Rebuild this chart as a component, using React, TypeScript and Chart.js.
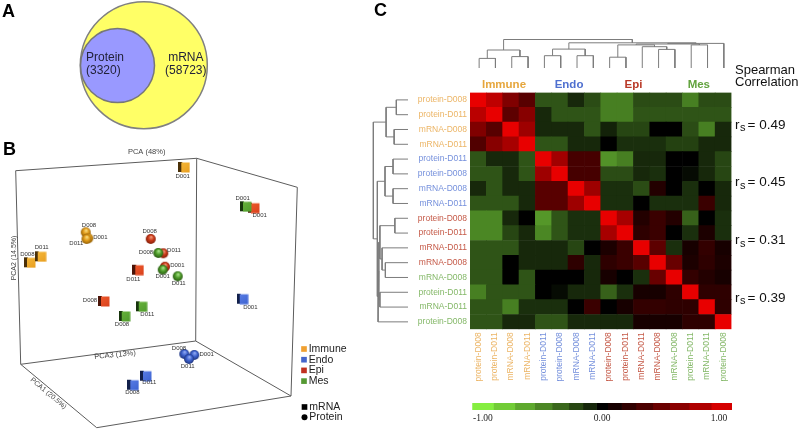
import React, { useEffect, useRef } from "react";
import { Chart, registerables } from "chart.js";

Chart.register(...registerables);

const SANS = "'Liberation Sans', Arial, sans-serif";
const SERIF = "'Liberation Serif', 'Times New Roman', serif";

// ---------- Panel A data
const vennNames = ["mRNA", "Protein"];
const vennCounts = [58723, 3320];
const vennCentres = [[143.8, 65.2], [117.5, 65.5]];

// ---------- Panel B data: [label, projected x, projected y, label x, label y]
const immuneMrna = [["D001", 184.3, 167, 182.7, 176.3], ["D008", 30, 262.3, 27.3, 254.3], ["D011", 40.7, 256.3, 41.7, 247.7]];
const immuneProtein = [["D008", 85.7, 232.3, 89, 225], ["D001", 88.3, 238.3, 100.3, 237], ["D011", 86.5, 239, 76.3, 243]];
const endoMrna = [["D001", 242.7, 298.7, 250.3, 307.3], ["D008", 133.3, 384.7, 132.3, 392.3], ["D011", 146, 375.7, 149.3, 382.7]];
const endoProtein = [["D008", 184.3, 354, 179, 348], ["D001", 194.3, 355, 206.7, 354.7], ["D011", 189, 359, 187.7, 366.7]];
const epiMrna = [["D001", 254, 207.7, 259.7, 215.3], ["D008", 104, 301, 90, 300.7], ["D011", 138.3, 269.7, 133.3, 279]];
const epiProtein = [["D008", 150.7, 239, 149.7, 231], ["D011", 163.3, 253.3, 174, 250], ["D001", 165, 266.7, 177.3, 265]];
const mesMrna = [["D001", 246, 206.3, 242.7, 198], ["D008", 124.7, 316, 122, 324.3], ["D011", 141.7, 306.3, 147.3, 314.3]];
const mesProtein = [["D008", 158.3, 253, 146, 252.3], ["D001", 162.7, 269.7, 162.7, 276.7], ["D011", 177.7, 276.3, 178.7, 283.3]];
const boxCorners: Record<string, number[]> = {
  a: [15.7, 170.7], b: [196.7, 158.3], c: [297.3, 187.3], d: [20.7, 364.3],
  e: [195.7, 341], f: [291, 396], g: [96.7, 427.7],
};
const boxEdges = ["ab", "bc", "ad", "be", "cf", "de", "ef", "dg", "gf"];

// ---------- Panel C data
const groups = ["Immune", "Endo", "Epi", "Mes"];
const groupColours = ["#e6a63c", "#4f70d0", "#b93a28", "#62a33e"];
const sampleColours = ["#ecb566", "#7590dc", "#c55a48", "#84b868"];
const sampleNames = [
  "protein-D008", "protein-D011", "mRNA-D008", "mRNA-D011",
  "protein-D011", "protein-D008", "mRNA-D008", "mRNA-D011",
  "protein-D008", "protein-D011", "mRNA-D011", "mRNA-D008",
  "mRNA-D008", "protein-D011", "mRNA-D011", "protein-D008",
];
const sampleGroups = [0, 0, 0, 0, 1, 1, 1, 1, 2, 2, 2, 2, 3, 3, 3, 3];
const groupSpearman = [0.49, 0.45, 0.31, 0.39];
const corr = [
  [1, .82, .55, .38, -.25, -.25, -.1, -.22, -.42, -.42, -.22, -.22, -.22, -.42, -.22, -.22],
  [.8, 1, .4, .58, -.1, -.25, -.25, -.25, -.42, -.42, -.25, -.25, -.25, -.25, -.25, -.25],
  [.55, .38, 1, .68, -.1, -.1, -.1, -.25, -.08, -.2, -.2, 0, 0, -.22, -.42, -.1],
  [.35, .58, .72, 1, -.25, -.25, -.1, -.1, 0, -.12, -.12, -.12, -.18, -.18, -.1, -.1],
  [-.25, -.1, -.1, -.25, 1, .7, .3, .3, -.5, -.42, -.1, -.1, 0, 0, -.1, -.2],
  [-.25, -.25, -.1, -.25, .68, 1, .3, .3, -.22, -.22, -.1, -.12, 0, -.02, -.1, -.2],
  [-.1, -.25, -.1, -.1, .38, .38, 1, .68, -.12, -.12, -.22, .15, 0, -.12, 0, -.1],
  [-.25, -.25, -.25, -.1, .38, .38, .68, 1, -.12, -.12, 0, -.12, -.12, -.12, .25, -.1],
  [-.45, -.45, -.1, 0, -.52, -.25, -.12, -.12, 1, .72, .15, .25, .15, -.3, 0, -.12],
  [-.45, -.45, -.2, -.1, -.45, -.25, -.12, -.12, .72, 1, .2, .25, 0, -.12, .12, -.12],
  [-.25, -.25, -.25, -.1, -.1, -.1, -.2, 0, .12, .25, 1, .4, -.12, .1, .22, .1],
  [-.25, -.25, 0, -.1, -.1, -.1, .2, -.1, .2, .25, .38, 1, .45, .12, .2, .12],
  [-.25, -.25, 0, -.25, 0, 0, 0, -.1, .1, 0, -.12, .45, 1, .22, .15, .1],
  [-.42, -.25, -.25, -.25, 0, -.02, -.1, -.1, -.3, -.12, .1, .1, .2, 1, .2, .2],
  [-.25, -.25, -.42, -.12, -.12, -.12, 0, .25, 0, .1, .22, .22, .2, .2, 1, .2],
  [-.25, -.25, -.1, -.1, -.25, -.25, -.1, -.1, -.1, -.1, .1, .1, .1, .2, .2, 1],
];
// Cluster merges: child (leaf index, or "mN" for merge N) a, child b, distance
const clusterMerges: [number | string, number | string, number][] = [
  [0, 1, .32], [2, 3, .38], ["m0", "m1", .6],
  [4, 5, .41], [6, 7, .41], ["m3", "m4", .63],
  [8, 9, .36], [11, 12, .62], [10, "m7", .71], ["m6", "m8", .77],
  [13, 14, .77], ["m9", "m10", .8], ["m11", 15, .82],
  ["m5", "m12", .84], ["m2", "m13", .95],
];
const scaleEdges = [-1, -.837, -.672, -.52, -.385, -.257, -.148, -.043, .043, .15, .26, .39, .52, .67, .84, 1];
const scaleTickAt = [-.918, 0, .9];
const scaleTickText = ["-1.00", "0.00", "1.00"];

// ---------- helpers
function colourFor(v: number) {
  if (v >= 0) return `rgb(${Math.round(v * 232)},0,0)`;
  const g = 255 * Math.pow(-v, 0.8);
  return `rgb(${Math.round(g * 0.56)},${Math.round(g)},${Math.round(g * 0.27)})`;
}

function makeCube(front: string, side: string, light: string) {
  const c = document.createElement("canvas");
  c.width = 12; c.height = 12;
  const x = c.getContext("2d")!;
  x.fillStyle = side;
  x.fillRect(0, 1, 4, 10);
  const g = x.createLinearGradient(3, 0, 12, 12);
  g.addColorStop(0, light);
  g.addColorStop(1, front);
  x.fillStyle = g;
  x.fillRect(3, 1.5, 8.5, 10);
  return c;
}

function makeSphere(main: string, dark: string, light: string) {
  const c = document.createElement("canvas");
  c.width = 12; c.height = 12;
  const x = c.getContext("2d")!;
  const g = x.createRadialGradient(6.5, 4, 0.5, 6, 6, 5.5);
  g.addColorStop(0, light);
  g.addColorStop(0.45, main);
  g.addColorStop(1, dark);
  x.fillStyle = g;
  x.beginPath();
  x.arc(6, 6, 5, 0, Math.PI * 2);
  x.fill();
  return c;
}

type TextItem = { text: string; x: number; y: number; font: string; color: string; align?: CanvasTextAlign; angle?: number };

const drawTexts = (ctx: CanvasRenderingContext2D, items: TextItem[]) => {
  for (const t of items) {
    ctx.save();
    ctx.translate(t.x, t.y);
    if (t.angle) ctx.rotate((t.angle * Math.PI) / 180);
    ctx.font = t.font;
    ctx.fillStyle = t.color;
    ctx.textAlign = t.align || "center";
    ctx.textBaseline = "middle";
    ctx.fillText(t.text, 0, 0);
    ctx.restore();
  }
};

const baseOptions: any = {
  responsive: false,
  animation: false,
  devicePixelRatio: 1,
  events: [],
  plugins: { legend: { display: false }, tooltip: { enabled: false } },
};
const flatLayout = { autoPadding: false, padding: 0 };

const hiddenLinear = (min: number, max: number, extra: any = {}) => ({ type: "linear", display: false, min, max, ...extra });

function treeLines(merges: typeof clusterMerges) {
  const pos: number[] = [];
  const hgt: number[] = [];
  const info = (c: number | string) =>
    typeof c === "number" ? [c + 0.5, 0] : [pos[+c.slice(1)], hgt[+c.slice(1)]];
  return merges.map(([a, b, h]) => {
    const [pa, ha] = info(a);
    const [pb, hb] = info(b);
    pos.push((pa + pb) / 2);
    hgt.push(h);
    return [[pa, ha], [pa, h], [pb, h], [pb, hb]];
  });
}

function Canvas({ left, top, width, height, build }: { left: number; top: number; width: number; height: number; build: (c: HTMLCanvasElement) => Chart }) {
  const ref = useRef<HTMLCanvasElement>(null);
  useEffect(() => {
    const chart = build(ref.current!);
    return () => chart.destroy();
  }, []);
  return <canvas ref={ref} width={width} height={height} style={{ position: "absolute", left, top, width, height, display: "block" }} />;
}

// ---------- Panel A
function buildVenn(c: HTMLCanvasElement) {
  return new Chart(c, {
    type: "scatter",
    data: {
      datasets: [
        { data: [{ x: vennCentres[1][0], y: vennCentres[1][1] }], pointRadius: 37, backgroundColor: "#9999ff", borderColor: "#777777", borderWidth: 1.5, order: 1, clip: false },
        { data: [{ x: vennCentres[0][0], y: vennCentres[0][1] }], pointRadius: 63.5, backgroundColor: "#ffff66", borderColor: "#808080", borderWidth: 1.5, order: 2, clip: false },
      ],
    } as any,
    options: { ...baseOptions, layout: flatLayout, scales: { x: hiddenLinear(0, 240), y: hiddenLinear(0, 135, { reverse: true }) } },
    plugins: [{
      id: "vennText",
      afterDraw(ch: any) {
        const f = `12px ${SANS}`;
        const col = "#22223a";
        const x = ch.scales.x, y = ch.scales.y;
        drawTexts(ch.ctx, [
          { text: "A", x: x.getPixelForValue(2), y: y.getPixelForValue(12), font: `bold 18px ${SANS}`, color: "#000", align: "left" },
          { text: vennNames[1], x: x.getPixelForValue(86), y: y.getPixelForValue(58), font: f, color: col, align: "left" },
          { text: `(${vennCounts[1]})`, x: x.getPixelForValue(86), y: y.getPixelForValue(71), font: f, color: col, align: "left" },
          { text: vennNames[0], x: x.getPixelForValue(185.8), y: y.getPixelForValue(58), font: f, color: col },
          { text: `(${vennCounts[0]})`, x: x.getPixelForValue(185.8), y: y.getPixelForValue(71), font: f, color: col },
        ]);
      },
    }],
  });
}

// ---------- Panel B
function buildPca(c: HTMLCanvasElement) {
  const series: [any[], any][] = [
    [epiMrna, makeCube("#d8401c", "#4a1408", "#ee5a2c")],
    [mesMrna, makeCube("#4f9a2c", "#17350c", "#68b33c")],
    [immuneMrna, makeCube("#e89e20", "#4a3008", "#f5b83a")],
    [endoMrna, makeCube("#3c62d0", "#12204a", "#5a7ee6")],
    [immuneProtein, makeSphere("#e09a18", "#8a5a08", "#f8d878")],
    [endoProtein, makeSphere("#3c60cc", "#1c2f70", "#8aa4f0")],
    [epiProtein, makeSphere("#c83818", "#7a1c08", "#f09070")],
    [mesProtein, makeSphere("#4c9a28", "#245010", "#a0dc80")],
  ];
  const pointSets = series.map(([rows, sprite], i) => ({
    data: rows.map((r: any[]) => ({ x: r[1], y: r[2] })),
    pointStyle: sprite,
    pointRadius: 6,
    showLine: false,
    order: 10 - i,
  }));
  const edgeSets = boxEdges.map((e) => ({
    data: [boxCorners[e[0]], boxCorners[e[1]]].map(([x, y]) => ({ x, y })),
    showLine: true,
    borderColor: "#5c5c5c",
    borderWidth: 1,
    pointRadius: 0,
    order: 30,
  }));
  const legendSets = groupColours.map((col, i) => ({
    data: [{ x: 304, y: 349 + i * 10.7 }],
    pointStyle: "rect",
    pointRadius: 4,
    backgroundColor: ["#f0a030", "#4466cc", "#c03020", "#559933"][i],
    borderWidth: 0,
    order: 1,
  }));
  const shapeSets = [
    { data: [{ x: 304.5, y: 407 }], pointStyle: "rect", pointRadius: 4, backgroundColor: "#000", borderWidth: 0, order: 1 },
    { data: [{ x: 304.5, y: 417.3 }], pointStyle: "circle", pointRadius: 3, backgroundColor: "#000", borderWidth: 0, order: 1 },
  ];
  return new Chart(c, {
    type: "scatter",
    data: { datasets: [...pointSets, ...edgeSets, ...legendSets, ...shapeSets] } as any,
    options: {
      ...baseOptions,
      layout: flatLayout,
      scales: { x: hiddenLinear(0, 360), y: hiddenLinear(135, 431, { reverse: true }) },
    },
    plugins: [{
      id: "pcaText",
      afterDraw(ch: any) {
        const x = (v: number) => ch.scales.x.getPixelForValue(v);
        const y = (v: number) => ch.scales.y.getPixelForValue(v);
        const items: TextItem[] = [];
        series.forEach(([rows]) => rows.forEach((r: any[]) =>
          items.push({ text: r[0], x: x(r[3]), y: y(r[4]), font: `6px ${SANS}`, color: "#333" })));
        const axisF = `7.5px ${SANS}`;
        items.push(
          { text: "B", x: x(3), y: y(150), font: `bold 18px ${SANS}`, color: "#000", align: "left" },
          { text: "PCA (48%)", x: x(146.7), y: y(151.7), font: axisF, color: "#444" },
          { text: "PCA2 (14.5%)", x: x(14), y: y(258), font: `7px ${SANS}`, color: "#444", angle: -90 },
          { text: "PCA3 (13%)", x: x(115), y: y(355), font: axisF, color: "#444", angle: -5.5 },
          { text: "PCA1 (20.5%)", x: x(48.3), y: y(393.3), font: `7px ${SANS}`, color: "#444", angle: 40 },
        );
        groups.forEach((g, i) => items.push({ text: g, x: x(308.7), y: y(349 + i * 10.7), font: `10.5px ${SANS}`, color: "#222", align: "left" }));
        items.push(
          { text: "mRNA", x: x(309.3), y: y(407), font: `10.5px ${SANS}`, color: "#222", align: "left" },
          { text: "Protein", x: x(309.3), y: y(417.3), font: `10.5px ${SANS}`, color: "#222", align: "left" },
        );
        drawTexts(ch.ctx, items);
      },
    }],
  });
}

// ---------- Panel C heat map
function buildHeat(c: HTMLCanvasElement) {
  const datasets = corr.map((row, r) => ({
    label: sampleNames[r],
    data: row.map(() => 1),
    backgroundColor: row.map(colourFor),
    borderWidth: 0,
    barPercentage: 1,
    categoryPercentage: 1,
    xAxisID: "x",
    yAxisID: "y",
    stack: "cells",
  })).reverse();
  return new Chart(c, {
    type: "bar",
    data: { labels: sampleNames.map((n, i) => `${n}#${i}`), datasets } as any,
    options: {
      ...baseOptions,
      layout: { autoPadding: false, padding: { top: 92.5, right: 68.5, left: 0, bottom: 0 } },
      scales: {
        x: {
          type: "category",
          stacked: true,
          offset: true,
          grid: { display: false, drawTicks: false },
          border: { display: false },
          afterFit: (s: any) => { s.height = 101.7; },
          ticks: {
            autoSkip: false, minRotation: 90, maxRotation: 90, padding: 3,
            font: { size: 8.5, family: SANS },
            color: (ctx: any) => sampleColours[sampleGroups[ctx.index]],
            callback: (_: any, i: number) => sampleNames[i],
          },
        },
        y: hiddenLinear(0, 16, { stacked: true }),
        yLabels: {
          type: "category",
          axis: "y",
          labels: sampleNames.map((n, i) => `${n}#${i}`),
          position: "left",
          offset: true,
          grid: { display: false, drawTicks: false },
          border: { display: false },
          afterFit: (s: any) => { s.width = 110; },
          ticks: {
            autoSkip: false, padding: 3,
            font: { size: 8.5, family: SANS },
            color: (ctx: any) => sampleColours[sampleGroups[ctx.index]],
            callback: (_: any, i: number) => sampleNames[i],
          },
        },
      },
    } as any,
    plugins: [{
      id: "heatText",
      afterDraw(ch: any) {
        const a = ch.chartArea;
        const cell = (a.right - a.left) / 16;
        const ch16 = (a.bottom - a.top) / 16;
        const groupCols = [2.08, 6.06, 10, 14];
        const groupRows = [2.2, 6.1, 10, 13.9];
        const items: TextItem[] = [
          { text: "C", x: 14, y: 11, font: `bold 18px ${SANS}`, color: "#000", align: "left" },
          { text: "Spearman", x: a.right + 3.5, y: 70.7, font: `13px ${SANS}`, color: "#111", align: "left" },
          { text: "Correlation", x: a.right + 3.5, y: 82.7, font: `13px ${SANS}`, color: "#111", align: "left" },
        ];
        groups.forEach((g, i) => {
          items.push({ text: g, x: a.left + groupCols[i] * cell, y: 85, font: `bold 11.5px ${SANS}`, color: groupColours[i] });
          const yy = a.top + groupRows[i] * ch16;
          items.push({ text: "r", x: a.right + 3.5, y: yy, font: `13.5px ${SANS}`, color: "#111", align: "left" });
          items.push({ text: "s", x: a.right + 8.5, y: yy + 3, font: `11px ${SANS}`, color: "#111", align: "left" });
          items.push({ text: `= ${groupSpearman[i].toFixed(2)}`, x: a.right + 16, y: yy, font: `13.5px ${SANS}`, color: "#111", align: "left" });
        });
        drawTexts(ch.ctx, items);
      },
    }],
  });
}

// ---------- dendrograms
function buildDendro(c: HTMLCanvasElement, horizontal: boolean) {
  const lines = treeLines(clusterMerges);
  const datasets = lines.map((pts) => ({
    data: pts.map(([p, d]) => (horizontal ? { x: p, y: d } : { x: d, y: p })),
    showLine: true,
    borderColor: "#7c7c7c",
    borderWidth: 1,
    pointRadius: 0,
    clip: false,
  }));
  const scales = horizontal
    ? { x: hiddenLinear(-0.06, 16), y: hiddenLinear(0, 1) }
    : { x: hiddenLinear(0, 1.096, { reverse: true }), y: hiddenLinear(-0.034, 16.05, { reverse: true }) };
  return new Chart(c, {
    type: "scatter",
    data: { datasets } as any,
    options: { ...baseOptions, layout: flatLayout, scales } as any,
  });
}

// ---------- colour scale
function buildScale(c: HTMLCanvasElement) {
  const datasets = scaleEdges.slice(0, -1).map((lo, i) => ({
    data: [[lo, scaleEdges[i + 1]]],
    backgroundColor: colourFor(i === 7 ? 0 : (lo + scaleEdges[i + 1]) / 2),
    borderWidth: 0,
    grouped: false,
    barPercentage: 1,
    categoryPercentage: 1,
  }));
  return new Chart(c, {
    type: "bar",
    data: { labels: ["scale"], datasets } as any,
    options: {
      ...baseOptions,
      indexAxis: "y",
      layout: flatLayout,
      scales: {
        y: { display: false },
        x: {
          type: "linear",
          min: -1,
          max: 1,
          grid: { display: false, drawTicks: false },
          border: { display: false },
          afterBuildTicks: (s: any) => { s.ticks = scaleTickAt.map((value) => ({ value })); },
          afterFit: (s: any) => { s.height = 18; },
          ticks: {
            padding: 3,
            maxRotation: 0,
            autoSkip: false,
            color: "#222",
            font: { size: 9.5, family: SERIF },
            callback: (_: any, i: number) => scaleTickText[i],
          },
        },
      },
    } as any,
  });
}

export default function App() {
  return (
    <div style={{ position: "fixed", left: 0, top: 0, width: 800, height: 431, overflow: "hidden", background: "#fff" }}>
      <Canvas left={0} top={0} width={240} height={135} build={buildVenn} />
      <Canvas left={0} top={135} width={360} height={296} build={buildPca} />
      <Canvas left={360} top={0} width={440} height={431} build={buildHeat} />
      <Canvas left={470} top={38} width={262} height={30} build={(c) => buildDendro(c, true)} />
      <Canvas left={368} top={92} width={40} height={238} build={(c) => buildDendro(c, false)} />
      <Canvas left={470} top={403} width={262} height={25} build={buildScale} />
    </div>
  );
}
